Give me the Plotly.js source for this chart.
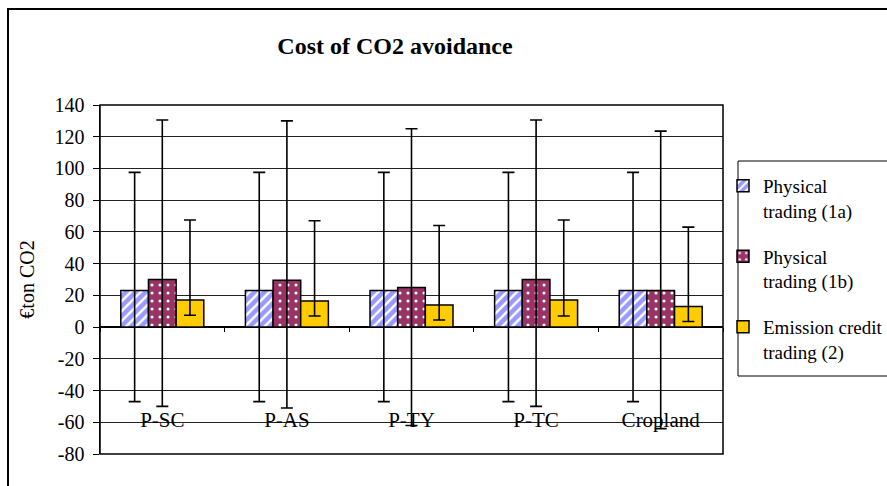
<!DOCTYPE html>
<html>
<head>
<meta charset="utf-8">
<script src="https://cdn.plot.ly/plotly-3.0.1.min.js"></script>
<style>
html,body{margin:0;padding:0;background:#fff;}
#chart{width:887px;height:486px;}
</style>
</head>
<body>
<div id="chart"></div>
<script>
var categories = ['P-SC', 'P-AS', 'P-TY', 'P-TC', 'Cropland'];

var phys1a    = [23, 23, 23, 23, 23];
var phys1aHi  = [97.5, 97.5, 97.5, 97.5, 97.5];
var phys1aLo  = [-47, -47, -47, -47, -47];

var phys1b    = [30, 29.5, 25, 30, 23];
var phys1bHi  = [130.5, 130, 125, 130.5, 123.5];
var phys1bLo  = [-50, -51, -62, -50, -64];

var emis      = [17, 16.5, 14, 17, 13];
var emisHi    = [67.5, 67, 64, 67.5, 63];
var emisLo    = [7.5, 7, 4.5, 7, 3.5];

var seriesNames = ['Physical<br>trading (1a)', 'Physical<br>trading (1b)', 'Emission credit<br>trading (2)'];
var yTicks = [-80, -60, -40, -20, 0, 20, 40, 60, 80, 100, 120, 140];

var FONT = 'Liberation Serif';

function errs(vals, hi, lo) {
  return {
    type: 'data', symmetric: false,
    array: vals.map(function (v, i) { return hi[i] - v; }),
    arrayminus: vals.map(function (v, i) { return v - lo[i]; }),
    color: '#000', thickness: 1.6, width: 6
  };
}

var traces = [
  {
    type: 'bar', x: categories, y: phys1a, name: seriesNames[0], legendgroup: 'a',
    marker: {
      color: '#9999ff', line: {color: '#000', width: 1.5},
      pattern: {shape: '/', fgcolor: '#ffffff', bgcolor: '#9999ff', size: 7, solidity: 0.35, fillmode: 'replace'}
    },
    error_y: errs(phys1a, phys1aHi, phys1aLo), hoverinfo: 'y'
  },
  {
    type: 'bar', x: categories, y: phys1b, name: seriesNames[1], legendgroup: 'b',
    marker: {
      color: '#993366', line: {color: '#000', width: 1.5},
      pattern: {shape: '.', fgcolor: '#ffffff', bgcolor: '#993366', size: 8, solidity: 0.12, fillmode: 'replace'}
    },
    error_y: errs(phys1b, phys1bHi, phys1bLo), hoverinfo: 'y'
  },
  {
    type: 'bar', x: categories, y: emis, name: seriesNames[2], legendgroup: 'c',
    marker: {color: '#ffcc00', line: {color: '#000', width: 1.5}},
    error_y: errs(emis, emisHi, emisLo), hoverinfo: 'y'
  }
];

// plot area: x 100..723, y 105..454
var L = 100, R = 887 - 723, T = 105, B = 486 - 454;
var PW = 887 - L - R, PH = 486 - T - B;
function px2x(p) { return (p - L) / PW; }
function px2y(p) { return 1 - (p - T) / PH; }

var layout = {
  width: 887, height: 486,
  margin: {l: L, r: R, t: T, b: B, autoexpand: false},
  paper_bgcolor: '#ffffff', plot_bgcolor: '#ffffff',
  font: {family: FONT, size: 20, color: '#000'},
  title: {
    text: '<b>Cost of CO2 avoidance</b>',
    font: {family: FONT, size: 24, color: '#000'},
    x: px2x(395), xref: 'paper', xanchor: 'center',
    y: 1 - 46 / 486, yref: 'container', yanchor: 'middle'
  },
  barmode: 'group', bargap: 0.334, bargroupgap: 0,
  xaxis: {
    type: 'category',
    anchor: 'free', position: px2y(327.1),
    showline: false, showgrid: false, zeroline: false,
    ticks: 'outside', ticklen: 4, tickwidth: 1, tickcolor: '#000',
    tickson: 'boundaries',
    ticklabelstandoff: 78,
    tickfont: {family: FONT, size: 21, color: '#000'},
    fixedrange: true
  },
  yaxis: {
    range: [-80, 140], tickvals: yTicks, ticktext: yTicks.map(String),
    showline: true, linecolor: '#000', linewidth: 1.5,
    ticks: 'outside', ticklen: 6, tickcolor: '#000', tickwidth: 1,
    ticklabelstandoff: 4,
    showgrid: true, gridcolor: '#222', gridwidth: 1,
    zeroline: true, zerolinecolor: '#000', zerolinewidth: 1.5,
    tickfont: {family: FONT, size: 20, color: '#000'},
    title: {text: '€ton CO2', font: {family: FONT, size: 20, color: '#000'}, standoff: 14},
    fixedrange: true
  },
  showlegend: true,
  legend: {
    x: 1.0, xanchor: 'left', y: px2y(167), yanchor: 'top',
    bgcolor: 'rgba(0,0,0,0)', borderwidth: 0,
    font: {family: FONT, size: 19, color: '#000'},
    traceorder: 'grouped', tracegroupgap: 18, valign: 'top'
  },
  shapes: [
    {type: 'rect', xref: 'paper', yref: 'paper', x0: px2x(8), x1: px2x(900), y0: px2y(500), y1: px2y(9),
     line: {color: '#000', width: 2}, layer: 'above'},
    {type: 'rect', xref: 'paper', yref: 'paper', x0: 0, x1: 1, y0: 0, y1: 1,
     line: {color: '#000', width: 1.5}, layer: 'above'},
    {type: 'rect', xref: 'paper', yref: 'paper', x0: px2x(738), x1: px2x(900), y0: px2y(376), y1: px2y(161),
     line: {color: '#000', width: 1}, layer: 'above'}
  ]
};

Plotly.newPlot('chart', traces, layout, {displayModeBar: false, staticPlot: true});
</script>
</body>
</html>
